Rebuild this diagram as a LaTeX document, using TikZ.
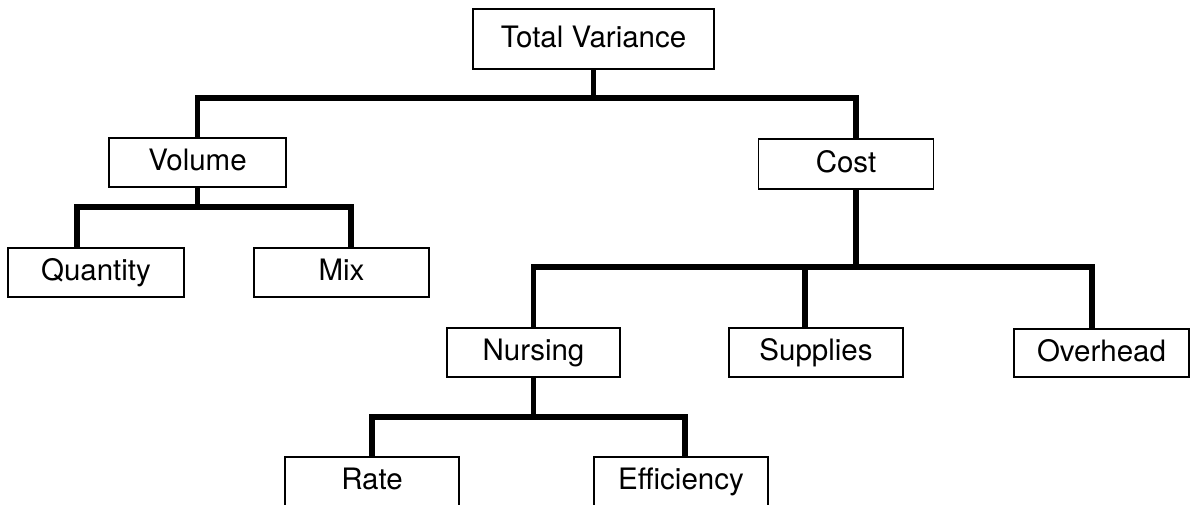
\documentclass[tikz,border=0pt]{standalone}
\usepackage{fontspec}
\setmainfont{TeX Gyre Heros}
\usepackage{tikz}

\tikzset{
	varbox/.style={draw, line width=1.5pt, minimum width=175pt, minimum height=49pt, inner sep=0pt, text height=22pt, text depth=6pt, font=\fontsize{29.5}{34}\selectfont},
	bar/.style={line width=5.5pt}
}

\begin{document}
\begin{tikzpicture}[x=1pt, y=-1pt]
	\useasboundingbox (0,0) rectangle (1192,504);

	% Draw boxes
	%Top
	\node[varbox, minimum width=241pt, minimum height=60pt] (total) at (593.5,39) {Total Variance};
	%Level 1
	\node[varbox, minimum width=177pt] (volume) at (197.5,162.5) {Volume};
	\node[varbox, minimum height=50pt] (cost) at (846,164) {Cost};
	%Level 2
	\node[varbox, minimum width=176pt] (quantity) at (96,272.5) {Quantity};
	\node[varbox] (mix) at (341.5,272.5) {Mix};
	\node[varbox, minimum width=173pt] (nursing) at (533.5,352.5) {Nursing};
	\node[varbox, minimum width=174pt] (supplies) at (816,352.5) {Supplies};
	\node[varbox, minimum height=48pt] (overhead) at (1101.5,353) {Overhead};
	%Level 3
	\node[varbox, minimum width=174pt] (rate) at (372,481.5) {Rate};
	\node[varbox, minimum width=174pt] (efficiency) at (681,481.5) {Efficiency};

	% Bar heights
	\coordinate (topbar) at (0,98);
	\coordinate (volbar) at (0,207);
	\coordinate (costbar) at (0,267);
	\coordinate (nursbar) at (0,417);

	% Draw connectors
	\draw[bar] (total.south) -- (total.south |- topbar);
	\draw[bar] (volume.north) |- ([xshift=10pt]cost.north |- topbar) -- ([xshift=10pt]cost.north);

	\draw[bar] (volume.south) -- (volume.south |- volbar);
	\draw[bar] ([xshift=-19pt]quantity.north) |- ([xshift=9.5pt]mix.north |- volbar) -- ([xshift=9.5pt]mix.north);

	\draw[bar] ([xshift=10pt]cost.south) -- ([xshift=10pt]cost.south |- costbar);
	\draw[bar] (nursing.north) |- ([xshift=-9.5pt]overhead.north |- costbar) -- ([xshift=-9.5pt]overhead.north);
	\draw[bar] ([xshift=-11pt]supplies.north) -- ([xshift=-11pt]supplies.north |- costbar);

	\draw[bar] (nursing.south) -- (nursing.south |- nursbar);
	\draw[bar] (rate.north) |- ([xshift=4pt]efficiency.north |- nursbar) -- ([xshift=4pt]efficiency.north);

\end{tikzpicture}
\end{document}
